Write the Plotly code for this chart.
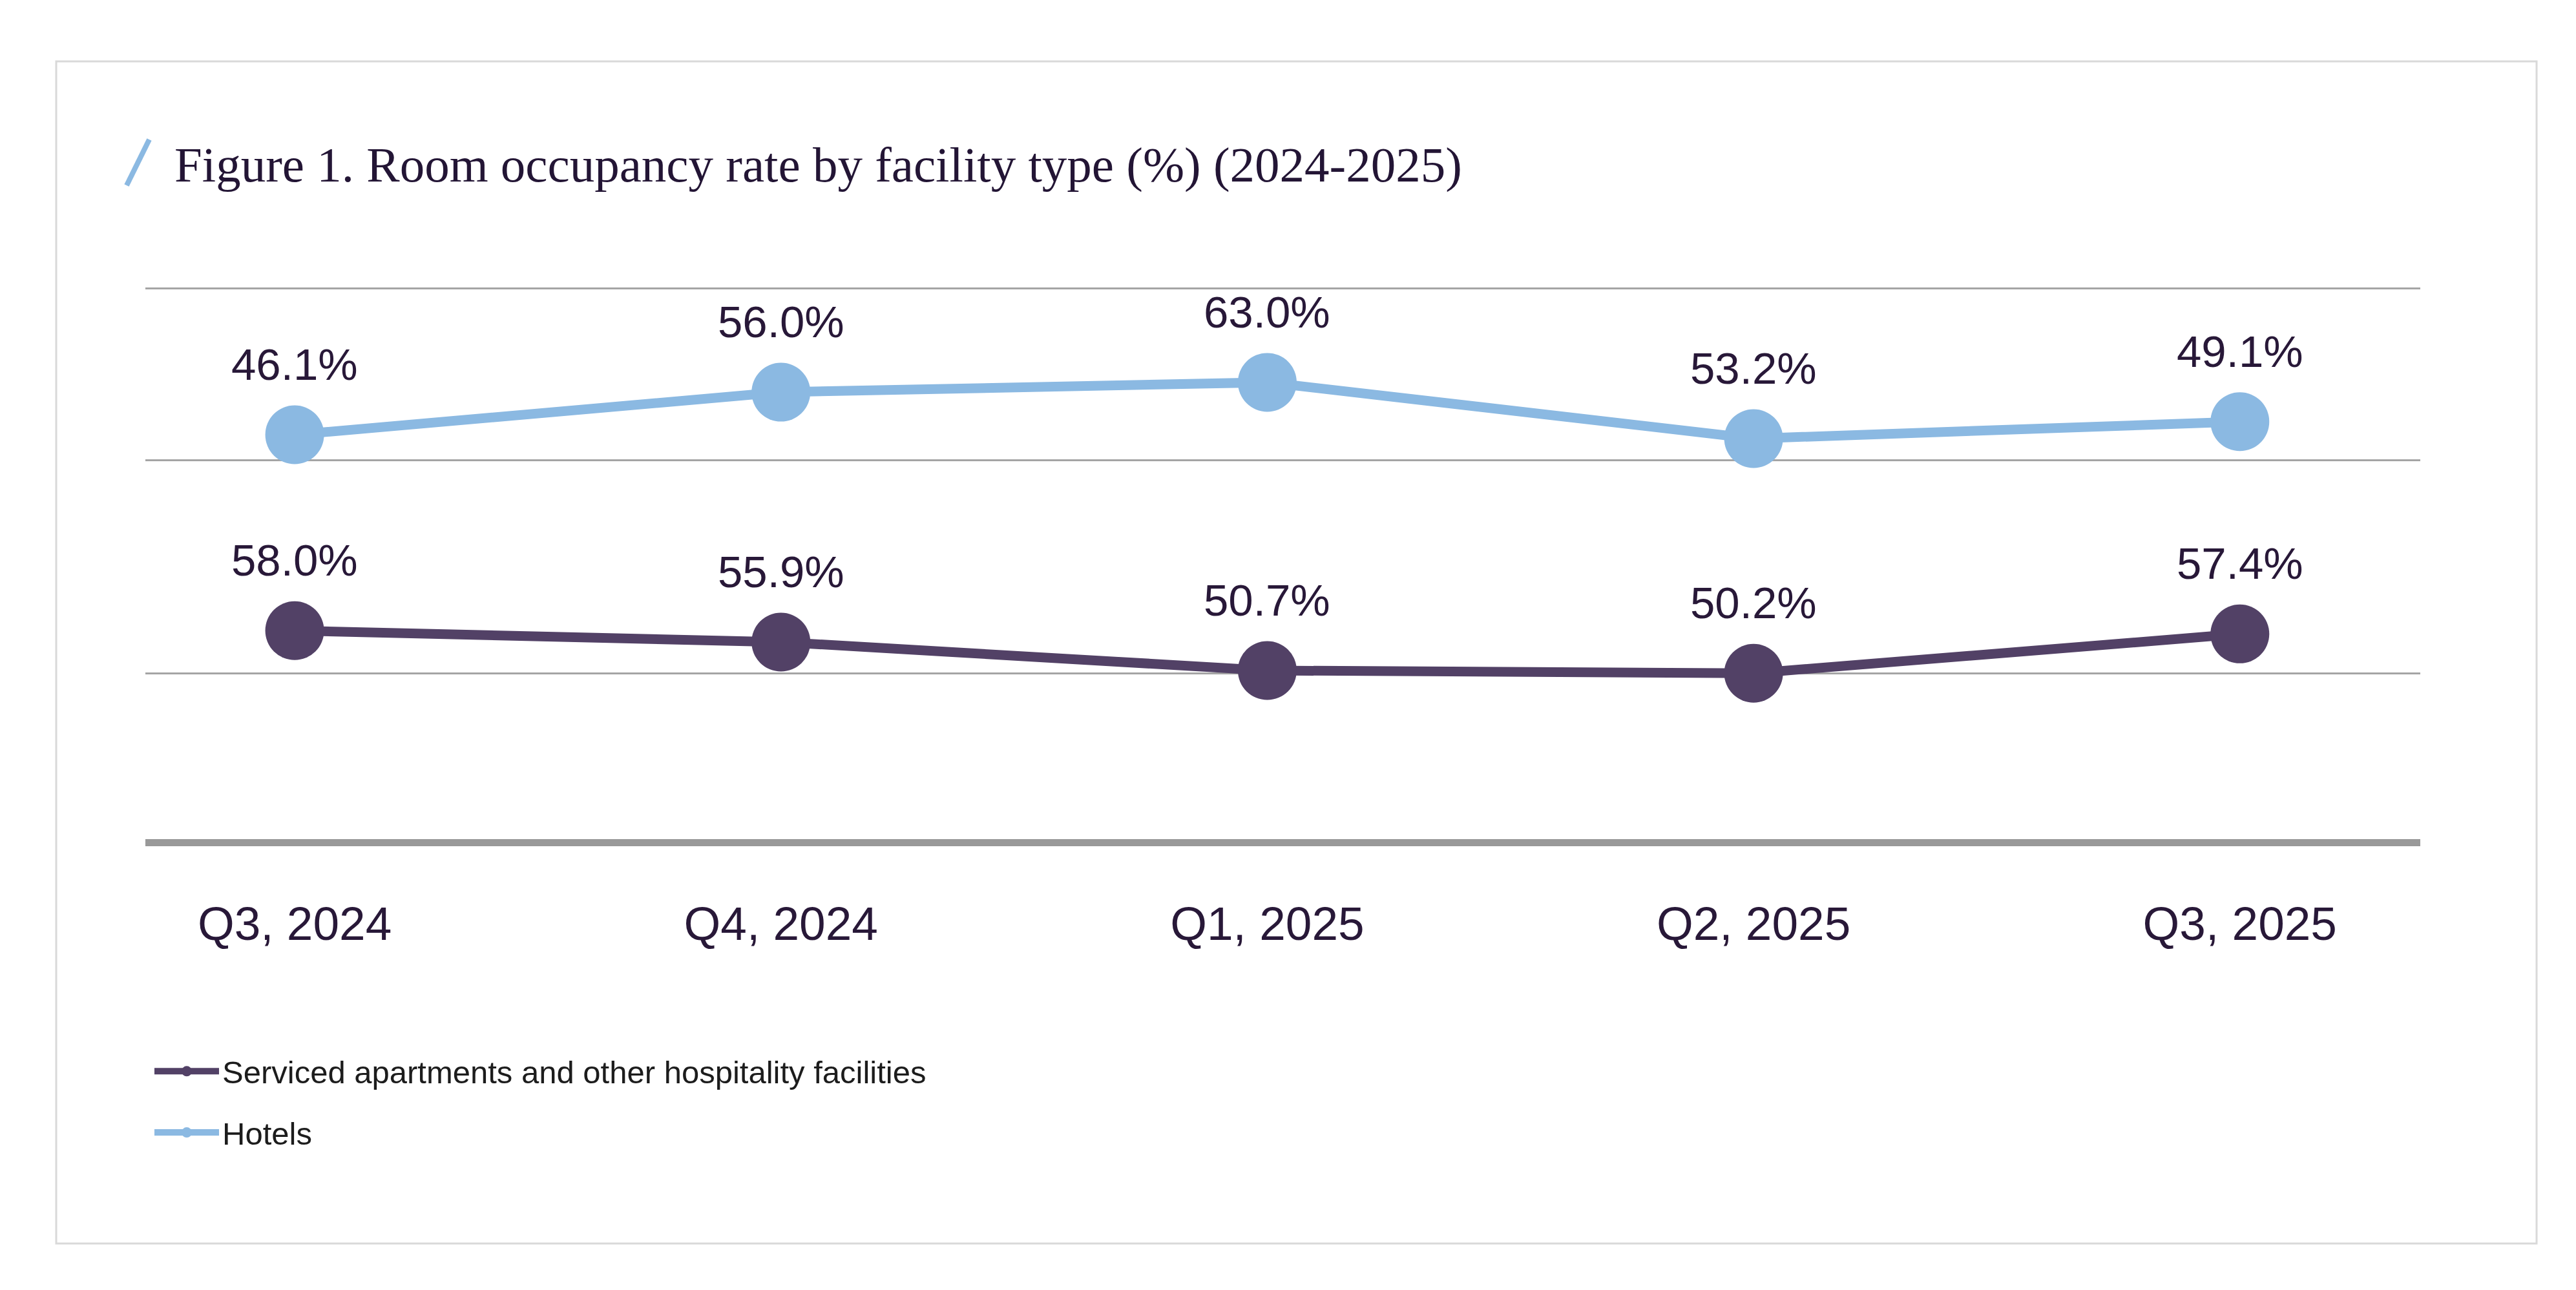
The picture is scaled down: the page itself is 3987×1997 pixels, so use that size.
import plotly.graph_objects as go

# ---- data ----
quarters = ["Q3, 2024", "Q4, 2024", "Q1, 2025", "Q2, 2025", "Q3, 2025"]
serviced = [58.0, 55.9, 50.7, 50.2, 57.4]
hotels = [46.1, 56.0, 63.0, 53.2, 49.1]
series_names = ["Serviced apartments and other hospitality facilities", "Hotels"]
title_text = "Figure 1. Room occupancy rate by facility type (%) (2024-2025)"

# hotels line is drawn stacked on top of the serviced values
hotels_stacked = [h + s for h, s in zip(hotels, serviced)]

# ---- styling ----
PURPLE = "#524166"
BLUE = "#8bb9e2"
TEXT = "#281838"
GRID = "#a5a5a5"

W, H = 3987, 1997
L, R, T, B = 217, 249, 400, 706
PW, PH = W - L - R, H - T - B


def px_x(px):
    return (px - L) / PW


def px_y(py):
    return (H - B - py) / PH


fig = go.Figure()
fig.add_trace(go.Scatter(
    x=quarters, y=serviced, name=series_names[0], mode="lines+markers",
    line=dict(color=PURPLE, width=15), marker=dict(size=91, color=PURPLE),
    legendgroup="g1", yaxis="y", cliponaxis=False,
))
fig.add_trace(go.Scatter(
    x=quarters, y=hotels_stacked, name=series_names[1], mode="lines+markers",
    line=dict(color=BLUE, width=15), marker=dict(size=91, color=BLUE),
    legendgroup="g2", yaxis="y2", cliponaxis=False,
))

annotations = []
for q, v in zip(quarters, serviced):
    annotations.append(dict(x=q, y=v, xref="x", yref="y", text=f"{v:.1f}%",
                            showarrow=False, yanchor="bottom", yshift=68,
                            font=dict(size=69, color=TEXT, family="Liberation Sans")))
for q, v, hv in zip(quarters, hotels_stacked, hotels):
    annotations.append(dict(x=q, y=v, xref="x", yref="y2", text=f"{hv:.1f}%",
                            showarrow=False, yanchor="bottom", yshift=68,
                            font=dict(size=69, color=TEXT, family="Liberation Sans")))

shapes = [
    # outer frame
    dict(type="rect", xref="paper", yref="paper",
         x0=px_x(79), x1=px_x(3918), y0=px_y(1917), y1=px_y(87),
         line=dict(color="#d9d9d9", width=3), layer="below"),
    # decorative slash before the title
    dict(type="line", xref="paper", yref="paper",
         x0=px_x(188), y0=px_y(279), x1=px_x(223), y1=px_y(208),
         line=dict(color=BLUE, width=8)),
]

fig.update_layout(
    width=W, height=H,
    margin=dict(l=L, r=R, t=T, b=B, autoexpand=False),
    paper_bgcolor="white", plot_bgcolor="white",
    font=dict(family="Liberation Sans", color=TEXT),
    title=dict(text=title_text, x=262 / W, xref="container", xanchor="left",
               y=1 - 246 / H, yref="container", yanchor="middle",
               font=dict(family="Liberation Serif", size=77, color="#231535")),
    xaxis=dict(type="category", categoryorder="array", categoryarray=quarters,
               range=[-0.307, 4.371], showgrid=False, zeroline=False,
               showline=True, linecolor="#999999", linewidth=11,
               ticks="", ticklabelstandoff=57,
               tickfont=dict(size=73, color=TEXT, family="Liberation Sans")),
    yaxis=dict(range=[19.81, 125.25], tickvals=[50.13, 89.16, 120.66],
               showticklabels=False, showgrid=True, gridcolor=GRID, gridwidth=2.5,
               zeroline=False, showline=False, ticks=""),
    yaxis2=dict(range=[30.02, 135.46], overlaying="y", side="left",
                showticklabels=False, showgrid=False, zeroline=False,
                showline=False, ticks=""),
    showlegend=True,
    legend=dict(x=px_x(226), y=px_y(1612), xanchor="left", yanchor="top",
                orientation="v", traceorder="grouped", tracegroupgap=28,
                itemwidth=100,
                font=dict(size=49, color="#1c1c1c", family="Liberation Sans"),
                bgcolor="rgba(0,0,0,0)"),
    annotations=annotations,
    shapes=shapes,
)

fig.write_html("out.html")
